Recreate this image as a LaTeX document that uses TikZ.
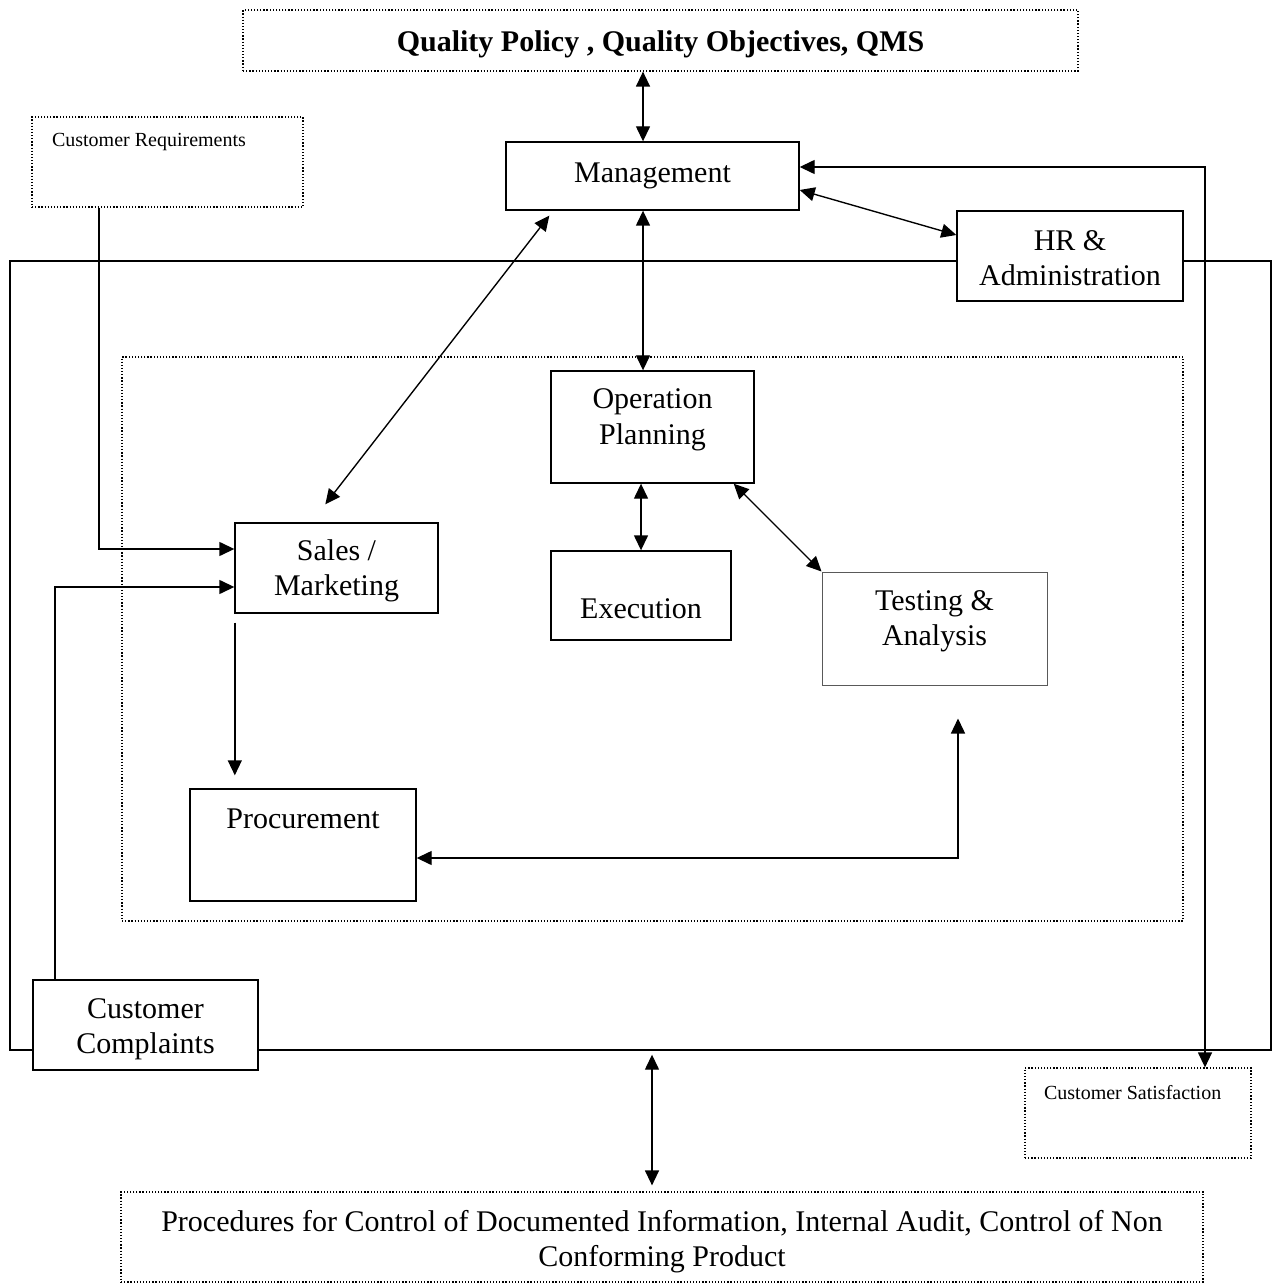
\documentclass[tikz,border=0pt]{standalone}
\usepackage{fontspec}
\setmainfont{Liberation Serif}
\usetikzlibrary{arrows.meta,calc}
\newcommand\mainsize{\fontsize{12}{14}\selectfont}
\newcommand\smallsize{\fontsize{8}{9.5}\selectfont}
\tikzset{
  dims/.style 2 args={minimum width=#1*0.4pt, minimum height=#2*0.4pt},
  solidbox/.style={draw, fill=white, inner sep=0pt, align=center, font=\mainsize},
  dotbox/.style={draw, dash pattern=on 0.5pt off 0.75pt, line width=0.5pt, inner sep=0pt, align=center, font=\mainsize},
  oneline/.style={text height=11pt},
  twoline/.style={text height=25pt},
  note/.style={anchor=north west, inner sep=0pt, font=\smallsize},
}

\begin{document}
\begin{tikzpicture}[x=0.4pt, y=-0.4pt, line width=0.55pt, >={Triangle[length=6pt,width=5.6pt]}]
  \useasboundingbox (0,0) rectangle (1273,1284);
  % ---- frames: organisation and operations ----
  \node[draw, dims={1261}{789}] (plant) at (640.5,655.5) {};
  \node[dotbox, dims={1061}{564}] (core) at (652.5,639) {};
  % ---- policy, inputs and outputs ----
  \node[dotbox, oneline, dims={835}{61}, font=\mainsize\bfseries] (policy) at (660.5,40.5)
    {Quality Policy , Quality Objectives, QMS};
  \node[dotbox, dims={271}{90},
    label={[note, xshift=8pt, yshift=-6.6pt]north west:Customer Requirements}] (custreq) at (167.5,162) {};
  \node[dotbox, dims={226}{90},
    label={[note, xshift=7.6pt, yshift=-6.8pt]north west:Customer Satisfaction}] (satis) at (1138,1113) {};
  \node[dotbox, twoline, text height=26pt, dims={1082}{90}] (proced) at (662,1237)
    {Procedures for Control of Documented Information, Internal Audit, Control of Non\\ Conforming Product};
  % ---- functions ----
  \node[solidbox, oneline, dims={293}{68}, text depth=5.8pt] (mgmt) at (652.5,176) {Management};
  \node[solidbox, twoline, text height=24pt, dims={226}{90}] (hr) at (1070,256) {HR \&\\ Administration};
  \node[solidbox, twoline, dims={203}{112}, text depth=11.4pt] (oper) at (652.5,427) {Operation\\ Planning};
  \node[solidbox, dims={180}{89}, text height=18pt, text depth=0pt] (exec) at (641,595.5) {Execution};
  \node[solidbox, twoline, dims={225}{113}, draw=black!65, line width=0.4pt, text depth=11.8pt] (test) at (934.5,628.5) {Testing \&\\ Analysis};
  \node[solidbox, twoline, text height=24.5pt, dims={203}{90}] (sales) at (336.5,568) {Sales /\\ Marketing};
  \node[solidbox, oneline, dims={226}{112}, text depth=24.2pt] (proc) at (303,845) {Procurement};
  \node[solidbox, twoline, dims={225}{90}] (compl) at (145.5,1025) {Customer\\ Complaints};
  % ---- connectors ----
  \coordinate (cQ) at (643,0);
  \coordinate (cS) at (1205,0);
  \coordinate (cR) at (99,0);
  \coordinate (cC) at (55,0);
  \coordinate (cB) at (652,0);
  \draw[<->] (policy.south -| cQ) -- (mgmt.north -| cQ);
  \draw[<->] (mgmt.south -| cQ) -- (oper.north -| cQ);
  \draw[<->] (oper.south -| exec.north) -- (exec.north);
  \draw[<->] ($(oper.south east)+(-21,0)$) -- (test.north west);
  \draw[<->] ($(mgmt.south west)+(44,5)$) -- ($(sales.north west)+(91,-18)$);
  \draw[<->] ($(mgmt.east)+(0,14)$) -- ($(hr.west)+(0,-21)$);
  \draw[<->] ($(mgmt.east)+(0,-9)$) -| (satis.north -| cS);
  \draw[->] (custreq.south -| cR) |- ($(sales.west)+(0,-19)$);
  \draw[->] (compl.north -| cC) |- ($(sales.west)+(0,19)$);
  \draw[->] ($(sales.south west)+(0.5,9)$) -- ($(proc.north -| sales.south west)+(0.5,-13)$);
  \draw[<->] ($(proc.east)+(0,13)$) -| ($(test.south)+(23.5,33)$);
  \draw[<->] ($(plant.south -| cB)+(0,4)$) -- ($(proced.north -| cB)+(0,-6)$);
\end{tikzpicture}
\end{document}
